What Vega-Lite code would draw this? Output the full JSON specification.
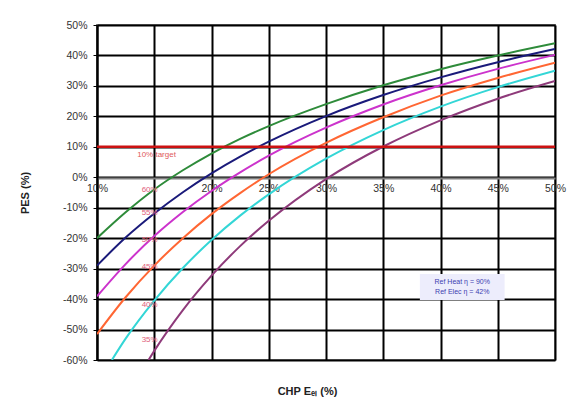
{
  "$schema": "https://vega.github.io/schema/vega-lite/v6.json",
  "width": 458,
  "height": 335,
  "autosize": {"type": "none"},
  "padding": {"left": 97, "top": 25, "right": 12, "bottom": 45},
  "background": "white",
  "config": {
    "font": "Liberation Sans",
    "view": {"stroke": "#808080", "strokeWidth": 2},
    "axis": {"labelFont": "Liberation Sans", "titleFont": "Liberation Sans", "labelFontSize": 10.5, "labelColor": "#333333", "titleColor": "#222222", "titleFontSize": 11, "titleFontWeight": "bold", "gridColor": "#000000", "gridWidth": 2, "gridOpacity": 1, "tickColor": "#000000"}
  },
  "datasets": {
    "curves": [
      {"s": "c1", "e": 10, "p": -20.0}, {"s": "c1", "e": 12.5, "p": -11.5}, {"s": "c1", "e": 15, "p": -4.0}, {"s": "c1", "e": 17.5, "p": 2.3}, {"s": "c1", "e": 20, "p": 7.8}, {"s": "c1", "e": 22.5, "p": 12.6}, {"s": "c1", "e": 25, "p": 16.8}, {"s": "c1", "e": 30, "p": 24.0}, {"s": "c1", "e": 35, "p": 30.2}, {"s": "c1", "e": 40, "p": 35.5}, {"s": "c1", "e": 45, "p": 40.0}, {"s": "c1", "e": 50, "p": 44.0},
      {"s": "c2", "e": 10, "p": -29.0}, {"s": "c2", "e": 12.5, "p": -19.8}, {"s": "c2", "e": 15, "p": -11.9}, {"s": "c2", "e": 17.5, "p": -4.9}, {"s": "c2", "e": 20, "p": 1.3}, {"s": "c2", "e": 22.5, "p": 6.8}, {"s": "c2", "e": 25, "p": 11.7}, {"s": "c2", "e": 30, "p": 20.1}, {"s": "c2", "e": 35, "p": 27.0}, {"s": "c2", "e": 40, "p": 32.8}, {"s": "c2", "e": 45, "p": 37.8}, {"s": "c2", "e": 50, "p": 42.1},
      {"s": "c3", "e": 10, "p": -39.1}, {"s": "c3", "e": 12.5, "p": -28.5}, {"s": "c3", "e": 15, "p": -19.3}, {"s": "c3", "e": 17.5, "p": -11.4}, {"s": "c3", "e": 20, "p": -4.5}, {"s": "c3", "e": 22.5, "p": 1.6}, {"s": "c3", "e": 25, "p": 7.1}, {"s": "c3", "e": 30, "p": 16.3}, {"s": "c3", "e": 35, "p": 23.9}, {"s": "c3", "e": 40, "p": 30.2}, {"s": "c3", "e": 45, "p": 35.6}, {"s": "c3", "e": 50, "p": 40.2},
      {"s": "c4", "e": 10, "p": -51.5}, {"s": "c4", "e": 12.5, "p": -39.4}, {"s": "c4", "e": 15, "p": -29.0}, {"s": "c4", "e": 17.5, "p": -20.0}, {"s": "c4", "e": 20, "p": -12.1}, {"s": "c4", "e": 22.5, "p": -5.2}, {"s": "c4", "e": 25, "p": 1.0}, {"s": "c4", "e": 30, "p": 11.3}, {"s": "c4", "e": 35, "p": 19.7}, {"s": "c4", "e": 40, "p": 26.8}, {"s": "c4", "e": 45, "p": 32.6}, {"s": "c4", "e": 50, "p": 37.6},
      {"s": "c5", "e": 11.3, "p": -60.0}, {"s": "c5", "e": 12.5, "p": -53.0}, {"s": "c5", "e": 15, "p": -40.5}, {"s": "c5", "e": 17.5, "p": -29.8}, {"s": "c5", "e": 20, "p": -20.6}, {"s": "c5", "e": 22.5, "p": -12.6}, {"s": "c5", "e": 25, "p": -5.6}, {"s": "c5", "e": 30, "p": 6.1}, {"s": "c5", "e": 35, "p": 15.5}, {"s": "c5", "e": 40, "p": 23.2}, {"s": "c5", "e": 45, "p": 29.6}, {"s": "c5", "e": 50, "p": 35.0},
      {"s": "c6", "e": 14.5, "p": -60.0}, {"s": "c6", "e": 15, "p": -57.0}, {"s": "c6", "e": 17.5, "p": -43.6}, {"s": "c6", "e": 20, "p": -32.3}, {"s": "c6", "e": 22.5, "p": -22.6}, {"s": "c6", "e": 25, "p": -14.3}, {"s": "c6", "e": 30, "p": -0.6}, {"s": "c6", "e": 35, "p": 10.1}, {"s": "c6", "e": 40, "p": 18.7}, {"s": "c6", "e": 45, "p": 25.8}, {"s": "c6", "e": 50, "p": 31.6}
    ],
    "target": [{"p": 10, "e": 15.2, "ty": 7.4, "t": "10% target"}],
    "labels": [
      {"e": 14.6, "p": -4.2, "t": "60%"},
      {"e": 14.6, "p": -11.7, "t": "55%"},
      {"e": 14.6, "p": -20.6, "t": "50%"},
      {"e": 14.6, "p": -29.5, "t": "45%"},
      {"e": 14.6, "p": -42.0, "t": "40%"},
      {"e": 14.6, "p": -53.5, "t": "35%"}
    ],
    "box": [{"e1": 38.2, "e2": 45.6, "p1": -31.8, "p2": -40.3}],
    "boxtext": [
      {"e": 41.9, "p": -34.4, "t": "Ref Heat η = 90%"},
      {"e": 41.9, "p": -37.7, "t": "Ref Elec η = 42%"}
    ]
  },
  "layer": [
    {
      "data": {"name": "curves"},
      "mark": {"type": "line", "strokeWidth": 2, "interpolate": "monotone", "clip": true},
      "encoding": {
        "x": {"field": "e", "type": "quantitative", "scale": {"domain": [10, 50], "nice": false, "zero": false},
          "axis": {"values": [10, 15, 20, 25, 30, 35, 40, 45, 50], "tickCount": 20, "labelExpr": "datum.value == 15 ? '' : datum.value + '%'", "labelOverlap": false, "labelBound": false, "labelFlush": false, "offset": -182, "tickSize": 4, "labelPadding": 1, "domainColor": "#808080", "domainWidth": 2, "title": "CHP Eₑₗ (%)", "titleY": 213, "titleBaseline": "middle", "titleX": 210}},
        "y": {"field": "p", "type": "quantitative", "scale": {"domain": [-60, 50], "nice": false, "zero": false},
          "axis": {"values": [-60, -50, -40, -30, -20, -10, 0, 10, 20, 30, 40, 50], "tickCount": 20, "labelExpr": "datum.value + '%'", "labelOverlap": false, "labelBound": false, "labelFlush": false, "tickSize": 4, "labelPadding": 6, "domainColor": "#000000", "domainWidth": 2, "title": "PES (%)", "titleX": -67}},
        "color": {"field": "s", "type": "nominal", "legend": null,
          "scale": {"domain": ["c1", "c2", "c3", "c4", "c5", "c6"], "range": ["#2E8B3A", "#1A1A7A", "#CC33CC", "#FF6633", "#33D6D6", "#8E3A7A"]}}
      }
    },
    {
      "data": {"name": "target"},
      "mark": {"type": "rule", "color": "#CC1111", "strokeWidth": 2.5},
      "encoding": {"y": {"field": "p", "type": "quantitative"}}
    },
    {
      "data": {"name": "target"},
      "mark": {"type": "text", "color": "#E05A5A", "fontSize": 8, "font": "Liberation Sans"},
      "encoding": {"x": {"field": "e", "type": "quantitative"}, "y": {"field": "ty", "type": "quantitative"}, "text": {"field": "t"}}
    },
    {
      "data": {"name": "labels"},
      "mark": {"type": "text", "color": "#E0607A", "fontSize": 8, "font": "Liberation Sans"},
      "encoding": {"x": {"field": "e", "type": "quantitative"}, "y": {"field": "p", "type": "quantitative"}, "text": {"field": "t"}}
    },
    {
      "data": {"name": "box"},
      "mark": {"type": "rect", "color": "#EDEDFC"},
      "encoding": {"x": {"field": "e1", "type": "quantitative"}, "x2": {"field": "e2"}, "y": {"field": "p1", "type": "quantitative"}, "y2": {"field": "p2"}}
    },
    {
      "data": {"name": "boxtext"},
      "mark": {"type": "text", "color": "#4040B0", "fontSize": 7, "font": "Liberation Sans"},
      "encoding": {"x": {"field": "e", "type": "quantitative"}, "y": {"field": "p", "type": "quantitative"}, "text": {"field": "t"}}
    }
  ]
}
